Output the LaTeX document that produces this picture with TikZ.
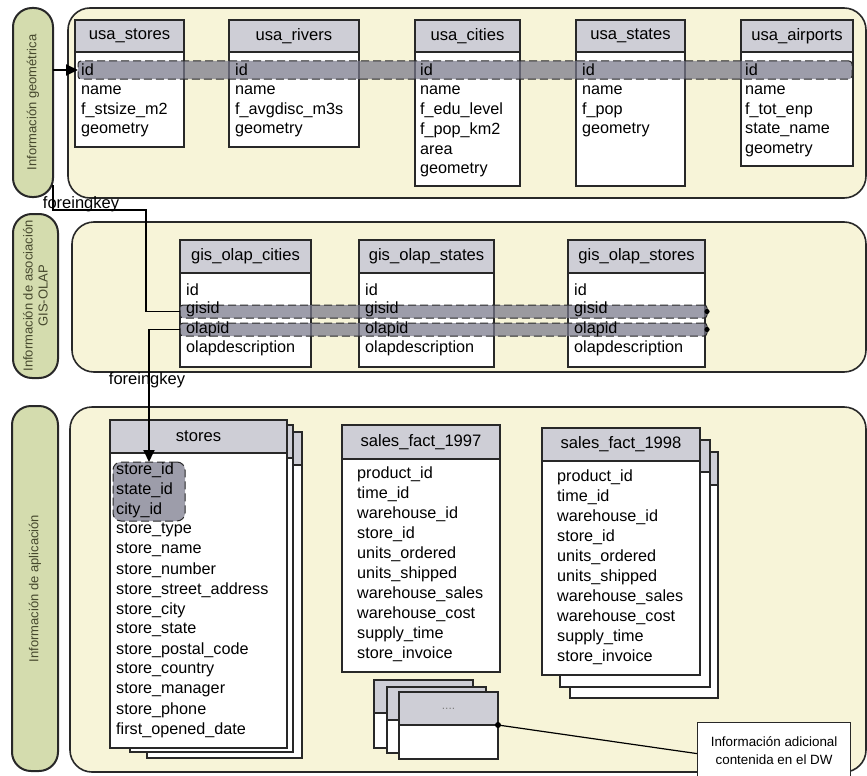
\documentclass[tikz,border=0pt]{standalone}
\usepackage{fontspec}
\setmainfont{Liberation Sans}
\usetikzlibrary{arrows.meta}
\definecolor{cream}{RGB}{247,244,216}
\definecolor{pillg}{RGB}{212,220,174}
\definecolor{hdrg}{RGB}{206,206,214}
\definecolor{bandg}{RGB}{120,120,138}
\definecolor{pilltxt}{RGB}{70,72,45}
\definecolor{edge}{RGB}{40,40,40}
\tikzset{
  panel/.style={draw=edge, line width=1.6pt, fill=cream, rounded corners=22pt},
  pill/.style={draw=edge, line width=2pt, fill=pillg, rounded corners=19pt, inner sep=0pt, outer sep=0pt, anchor=north west},
  pilltext/.style={rotate=90, text=pilltxt, font=\fontsize{13}{15}\selectfont, align=center, inner sep=0pt},
  tabbody/.style={draw=edge, line width=1.2pt, fill=white, inner sep=0pt, outer sep=0pt, anchor=north west},
  tabhdr/.style={draw=edge, line width=1.2pt, fill=hdrg, inner sep=0pt, outer sep=0pt, anchor=north west, font=\fontsize{16.6}{19}\selectfont},
  rowtxt/.style={anchor=west, inner sep=0pt, font=\fontsize{16.2}{18}\selectfont},
  band/.style={draw=edge, dashed, dash pattern=on 8pt off 4pt, line width=1pt, fill=bandg, fill opacity=0.72, rounded corners=3pt, inner sep=0pt, outer sep=0pt, anchor=north west},
  conn/.style={draw=black, line width=1.8pt},
  fklabel/.style={font=\fontsize{16.5}{18}\selectfont, inner sep=0pt},
}
\newcommand\dbtab[7]{%
  \node[tabbody, minimum width={#4-#2}, minimum height={#6-#3}] (#1-b) at (#2,#3) {};
  \node[tabhdr, minimum width={#4-#2}, minimum height={#5-#3}] (#1) at (#2,#3) {#7};
}
\newcommand\dbrows[5]{%
  \foreach \t [count=\i] in {#5}{\node[rowtxt] (#1-r\i) at (#2,{#3+(\i-1)*#4}) {\t};}
}
\begin{document}
\begin{tikzpicture}[x=1pt,y=-1pt]
\useasboundingbox (0,0) rectangle (867,776);
\fill[white] (0,0) rectangle (867,776);

% ---------- top section ----------
\node[pill, minimum width=40, minimum height=189] (p1) at (13,8) {};
\node[pilltext] (p1t) at (p1.center) {Información geométrica};
\draw[panel] (68,8) rectangle (866,198);

\dbtab{ust}{75}{20}{184}{52}{147}{usa\_stores}
\dbtab{uri}{229}{20}{359}{52}{147}{usa\_rivers}
\dbtab{uci}{415}{20}{520}{52}{186}{usa\_cities}
\dbtab{usa}{576}{20}{685}{52}{186}{usa\_states}
\dbtab{uai}{741}{20}{853}{52}{166}{usa\_airports}

\node[band, minimum width=774, minimum height=18] (idband) at (78,61) {};

\dbrows{ust}{81}{70}{20}{id,name,f\_stsize\_m2,geometry}
\dbrows{uri}{235}{70}{20}{id,name,f\_avgdisc\_m3s,geometry}
\dbrows{uci}{420}{70}{20}{id,name,f\_edu\_level,f\_pop\_km2,area,geometry}
\dbrows{usa}{582}{70}{20}{id,name,f\_pop,...,f\_perover65,geometry}
\dbrows{uai}{745}{70}{20}{id,name,f\_tot\_enp,state\_name,geometry}

\draw[conn, -{Triangle[length=12pt,width=11pt]}] (p1.east |- idband.west) -- (idband.west);

% ---------- middle section ----------
\node[pill, minimum width=45, minimum height=164] (p2) at (13,214) {};
\node[pilltext] (p2t) at (p2.center) {Información de asociación\\GIS-OLAP};
\draw[panel] (72,222) rectangle (866,372);

\dbtab{goc}{180}{240}{311}{273}{367}{gis\_olap\_cities}
\dbtab{gos}{359}{240}{494}{273}{367}{gis\_olap\_states}
\dbtab{got}{568}{240}{705}{273}{367}{gis\_olap\_stores}

\node[band, minimum width=527, minimum height=13] (gisband) at (180,305) {};
\node[band, minimum width=527, minimum height=13] (olapband) at (180,323) {};
\fill (gisband.east) circle (2.6pt);
\fill (olapband.east) circle (2.6pt);

\dbrows{goc}{186}{290}{19.5}{id,gisid,olapid,olapdescription}
\dbrows{gos}{365}{290}{19.5}{id,gisid,olapid,olapdescription}
\dbrows{got}{574}{290}{19.5}{id,gisid,olapid,olapdescription}

\coordinate (fkA) at (146,210);
\draw[conn] ([yshift=12pt]p1.south east) |- (fkA) |- (gisband.west);
\node[fklabel] (fk1) at (81,204) {foreingkey};

% ---------- bottom section ----------
\node[pill, minimum width=46, minimum height=365] (p3) at (12,406) {};
\node[pilltext] (p3t) at (p3.center) {Información de aplicación};
\draw[panel] (70,407) rectangle (866,772);

% stores stack
\dbtab{sto3}{147}{432}{302}{465}{758}{}
\dbtab{sto2}{130}{425}{293}{458}{752}{}
\dbtab{sto}{110}{420}{287}{453}{748}{stores}
\node[band, minimum width=72, minimum height=59, rounded corners=8pt] (hl) at (113,462) {};
\dbrows{sto}{116}{470}{20}{store\_id,state\_id,city\_id,store\_type,store\_name,store\_number,store\_street\_address,store\_city,store\_state,store\_postal\_code,store\_country,store\_manager,store\_phone,first\_opened\_date}

\draw[conn, -{Triangle[length=12pt,width=11pt]}] (olapband.west) -| (hl.north);
\node[fklabel] (fk2) at (147,380) {foreingkey};

% sales_fact_1997
\dbtab{sf7}{342}{425}{500}{459}{672}{sales\_fact\_1997}
\dbrows{sf7}{357}{474}{20}{product\_id,time\_id,warehouse\_id,store\_id,units\_ordered,units\_shipped,warehouse\_sales,warehouse\_cost,supply\_time,store\_invoice}

% sales_fact_1998 stack
\dbtab{sf83}{570}{452}{718}{485}{698}{}
\dbtab{sf82}{560}{440}{710}{472}{687}{}
\dbtab{sf8}{542}{428}{700}{461}{675}{sales\_fact\_1998}
\dbrows{sf8}{557}{477}{20}{product\_id,time\_id,warehouse\_id,store\_id,units\_ordered,units\_shipped,warehouse\_sales,warehouse\_cost,supply\_time,store\_invoice}

% .... stack
\dbtab{dt3}{374}{680}{473}{713}{748}{}
\dbtab{dt2}{387}{687}{486}{720}{753}{}
\dbtab{dt}{399}{692}{498}{725}{759}{\textcolor{gray}{\fontsize{12}{12}\selectfont ....}}

% callout
\node[draw=edge, line width=1.2pt, fill=white, minimum width=153, minimum height=56, anchor=north west, inner sep=0pt, align=center, font=\fontsize{13.4}{18}\selectfont] (callout) at (697,722) {Información adicional\\contenida en el DW};
\fill (dt.south east) circle (3pt);
\draw[line width=1.2pt] (dt.south east) -- ([yshift=-3pt]callout.west);
\end{tikzpicture}
\end{document}
